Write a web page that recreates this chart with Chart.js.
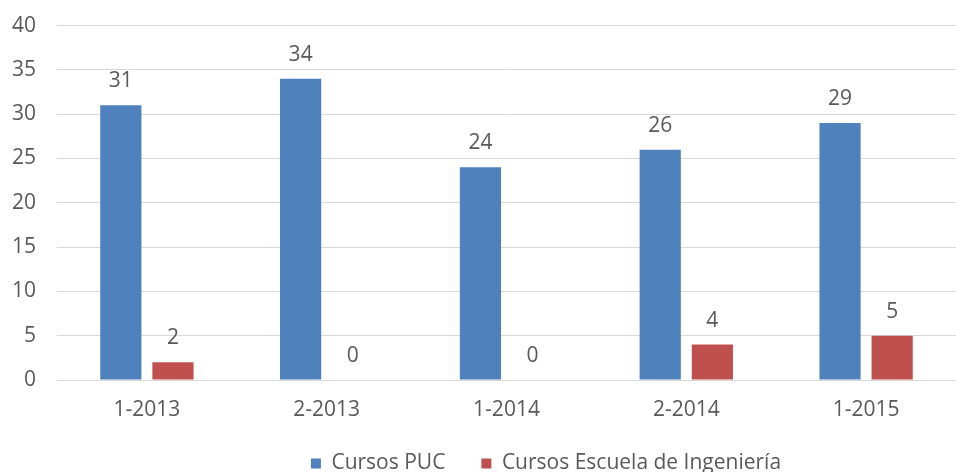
<!DOCTYPE html>
<html>
<head>
<meta charset="utf-8">
<script src="https://cdn.jsdelivr.net/npm/chart.js@4"></script>
<style>
  html, body { margin: 0; padding: 0; background: #fff; overflow: hidden; }
  #wrap { width: 956px; height: 472px; overflow: hidden; }
  #grafico { display: block; margin-top: -8px; }
</style>
</head>
<body>
<div id="wrap"><canvas id="grafico" width="956" height="492"></canvas></div>
<script>
const semestres = ['1-2013', '2-2013', '1-2014', '2-2014', '1-2015'];
const cursosPUC = [31, 34, 24, 26, 29];
const cursosIngenieria = [2, 0, 0, 4, 5];
const ticksY = [0, 5, 10, 15, 20, 25, 30, 35, 40];

const fonte = "'Open Sans', 'Noto Sans', sans-serif";
const cinza = '#595959';
const tamanho = 21;

// rótulos em cima de cada barra
const rotulos = {
    id: 'rotulos',
    afterLayout(chart) {
        // a legenda do original fica um pouco à direita do centro
        chart.legend.left += 68;
        chart.legend.right += 68;
    },
    afterDatasetsDraw(chart) {
        const ctx = chart.ctx;
        ctx.save();
        ctx.fillStyle = cinza;
        ctx.font = tamanho + 'px ' + fonte;
        ctx.textAlign = 'center';
        ctx.textBaseline = 'middle';
        chart.data.datasets.forEach((ds, i) => {
            chart.getDatasetMeta(i).data.forEach((bar, j) => {
                ctx.fillText(String(ds.data[j]), bar.x, bar.y - 24);
            });
        });
        ctx.restore();
    }
};

new Chart(document.getElementById('grafico'), {
    type: 'bar',
    data: {
        labels: semestres,
        datasets: [
            { label: 'Cursos PUC', data: cursosPUC, backgroundColor: '#4F81BD' },
            { label: 'Cursos Escuela de Ingeniería', data: cursosIngenieria, backgroundColor: '#C0504D' }
        ]
    },
    options: {
        responsive: false,
        animation: false,
        datasets: { bar: { categoryPercentage: 0.58, barPercentage: 0.79 } },
        plugins: {
            legend: {
                position: 'bottom',
                labels: {
                    color: cinza, font: { family: fonte, size: tamanho },
                    boxWidth: 10, boxHeight: 10, padding: 36
                }
            },
            tooltip: { enabled: false }
        },
        scales: {
            x: {
                afterFit: axis => { axis.height = 37; },
                grid: { display: false, drawTicks: false },
                border: { display: false },
                ticks: { color: cinza, font: { family: fonte, size: tamanho }, padding: 17 }
            },
            y: {
                min: 0, max: 40,
                afterBuildTicks: axis => { axis.ticks = ticksY.map(v => ({ value: v })); },
                afterFit: axis => { axis.width = 57; },
                grid: { color: '#D9D9D9', drawTicks: false },
                border: { display: false },
                ticks: { color: cinza, font: { family: fonte, size: tamanho }, padding: 21 }
            }
        }
    },
    plugins: [rotulos]
});
</script>
</body>
</html>
